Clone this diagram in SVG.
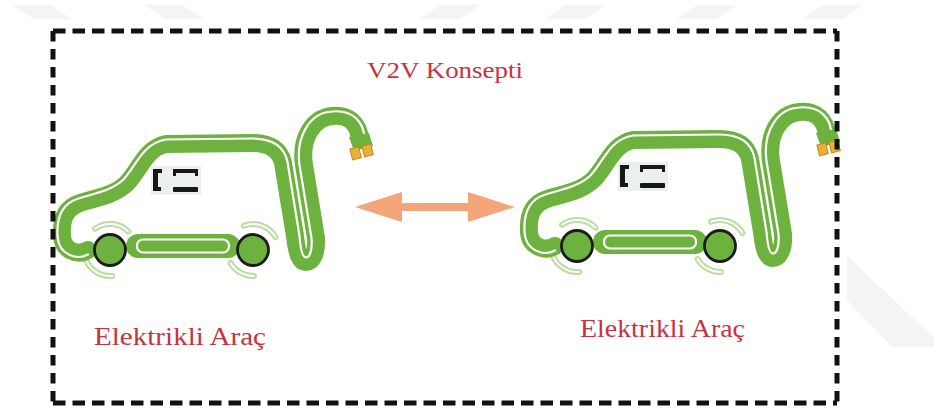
<svg xmlns="http://www.w3.org/2000/svg" xmlns:xlink="http://www.w3.org/1999/xlink" width="934" height="414" viewBox="0 0 934 414">
  <style>
    .band { fill: none; stroke: #6db23e; stroke-width: 18; stroke-linecap: round; stroke-linejoin: round; }
    .stripe { fill: none; stroke: #ffffff; stroke-width: 2.2; stroke-linecap: round; stroke-linejoin: round; }
    .fender { fill: none; stroke: #bcdda2; stroke-width: 6; stroke-linecap: round; }
    .fender-gap { fill: none; stroke: #ffffff; stroke-width: 2; stroke-linecap: round; }
    .wheel { fill: #6db23e; stroke: #1c1c1c; stroke-width: 2.8; }
    .mark { fill: #171717; }
    .pin { fill: #e8b23a; stroke: #c5871d; stroke-width: 1; }
    .label { font-family: "Liberation Serif", "Times New Roman", serif; fill: #c8323f; }
    .wm { fill: #f4f4f4; }
    .frame-h { stroke: #111111; stroke-width: 5; stroke-dasharray: 12.5 7; fill: none; }
    .frame-v { stroke: #111111; stroke-width: 5; stroke-dasharray: 10.5 7.5; fill: none; }
  </style>

  <defs>
    <!-- electric car outline with its charging cable -->
    <g id="ev-shape">
      <!-- fender arcs -->
      <path class="fender" d="M95.1,228.7 A26,26 0 0 1 128.4,231.6"/>
      <path class="fender-gap" d="M95.1,228.7 A26,26 0 0 1 128.4,231.6"/>
      <path class="fender" d="M112.3,275.9 A26,26 0 0 1 84.9,256.7"/>
      <path class="fender-gap" d="M112.3,275.9 A26,26 0 0 1 84.9,256.7"/>
      <path class="fender" d="M244.1,225.6 A26,26 0 0 1 275.5,237"/>
      <path class="fender-gap" d="M244.1,225.6 A26,26 0 0 1 275.5,237"/>
      <path class="fender" d="M253.9,276 A26,26 0 0 1 230.5,263"/>
      <path class="fender-gap" d="M253.9,276 A26,26 0 0 1 230.5,263"/>

      <!-- body and cable as one band -->
      <path class="band" d="M88,250 C78,256 63,251 62,236 C61,220 65,208 80,203 C95,198 114,196 127,183 C140,169 146,148 166,144 L252,143 C270,143 280,150 283,163 L295,236 C297,254 300,262 306,262 C312,262 317,254 316,238 L304,165 C300,138 313,118 332,116 C349,114 359,124 360,140"/>
      <path class="stripe" d="M88,254.5 C77,260.5 58.5,255 57.5,236 C56.5,217.5 61.5,203.5 78.5,198.5 C93.5,193.5 110.5,191.5 123.5,179.5 C136.5,165.5 142.5,143.5 166,139.5 L252,138.5 C273.5,138.5 284.5,146.5 287.5,162 L299.5,236 C300.5,249.5 302.5,257.5 306,257.5 C309.5,257.5 312.5,251 311.5,238 L299.5,165 C295.5,135.5 310.5,112.5 332,111.5 C352.5,109.5 364.5,121.5 364.5,140"/>

      <!-- plug head and pins -->
      <path d="M349,137 L369,133 L373,146 L354,151 Z" fill="#6db23e"/>
      <rect class="pin" x="351" y="148" width="9" height="11" transform="rotate(-14 355 153)"/>
      <rect class="pin" x="363" y="145" width="9" height="11" transform="rotate(-14 367 150)"/>

      <!-- underbody battery bar -->
      <rect x="126" y="234" width="114" height="24" rx="12" fill="#6db23e"/>
      <rect x="137" y="239.5" width="92" height="13" rx="6" fill="#6db23e" stroke="#ffffff" stroke-width="2.2"/>

      <!-- wheels -->
      <circle class="wheel" cx="110" cy="250" r="15.5"/>
      <circle class="wheel" cx="253" cy="250" r="15.5"/>

      <!-- window badge -->
      <rect x="151" y="166" width="50" height="29" fill="#eceff0"/>
      <rect class="mark" x="153" y="169" width="5" height="22"/>
      <rect class="mark" x="153" y="169" width="9" height="4"/>
      <rect class="mark" x="153" y="187" width="8" height="4"/>
      <rect class="mark" x="173" y="169" width="25" height="4"/>
      <rect class="mark" x="173" y="169" width="3" height="7"/>
      <rect class="mark" x="195" y="169" width="3" height="7"/>
      <rect class="mark" x="173" y="187" width="25" height="5" rx="1"/>
    </g>
  </defs>

  <rect width="934" height="414" fill="#ffffff"/>

  <!-- faint background bands -->
  <g id="backdrop">
    <polygon class="wm" points="12,5 50,5 72,19 34,19"/>
    <polygon class="wm" points="144,5 182,5 204,19 166,19"/>
    <polygon class="wm" points="440,5 480,5 460,19 420,19"/>
    <polygon class="wm" points="565,5 605,5 585,19 545,19"/>
    <polygon class="wm" points="697,5 737,5 717,19 677,19"/>
    <polygon class="wm" points="823,5 863,5 843,19 803,19"/>
    <polygon class="wm" points="847,256 934,338 934,347 892,347 847,300"/>
  </g>

  <g id="title">
    <text class="label" x="367" y="78" font-size="23" textLength="156" lengthAdjust="spacingAndGlyphs">V2V Konsepti</text>
  </g>

  <g id="car-left">
    <use xlink:href="#ev-shape" href="#ev-shape"/>
    <text class="label" x="94" y="345" font-size="26" textLength="172" lengthAdjust="spacingAndGlyphs">Elektrikli Araç</text>
  </g>

  <g id="car-right">
    <use xlink:href="#ev-shape" href="#ev-shape" transform="translate(467,-4)"/>
    <text class="label" x="580" y="337" font-size="26" textLength="165" lengthAdjust="spacingAndGlyphs">Elektrikli Araç</text>
  </g>

  <g id="connectors">
    <polygon points="355,207 402,192 402,203 468,203 468,192 515,207 468,222 468,211 402,211 402,222" fill="#f4a57a"/>
  </g>

  <!-- dashed frame -->
  <g id="frame">
    <line class="frame-h" x1="53" y1="31" x2="837" y2="31"/>
    <line class="frame-h" x1="53" y1="403" x2="837" y2="403"/>
    <line class="frame-v" x1="53" y1="31" x2="53" y2="403"/>
    <line class="frame-v" x1="837" y1="31" x2="837" y2="403"/>
  </g>
</svg>
